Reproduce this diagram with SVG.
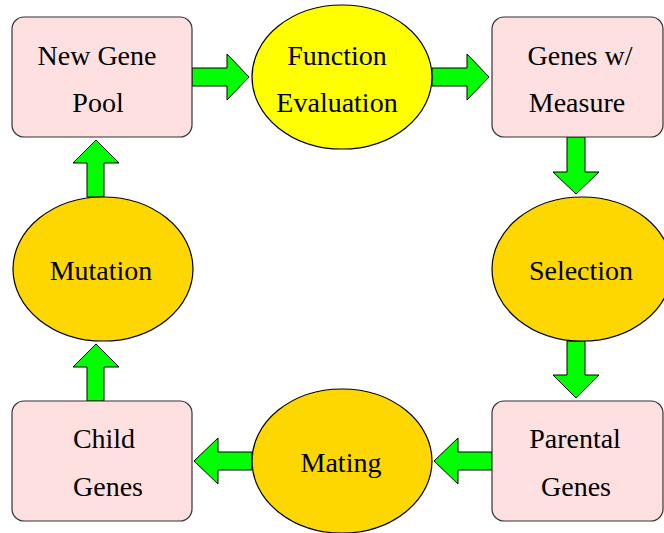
<svg xmlns="http://www.w3.org/2000/svg" width="664" height="533" viewBox="0 0 664 533">
<style>
.box{fill:#ffe0e0;stroke:#333;stroke-width:1.2}
.ell{fill:#ffd700;stroke:#000;stroke-width:1.2}
.yel{fill:#ffff00;stroke:#000;stroke-width:1.2}
.arr{fill:#00ff00;stroke:#000;stroke-width:1}
</style>
<rect width="664" height="533" fill="#fff"/>
<g id="connectors">
<polygon class="arr" points="192,68 227,68 227,54 249,77 227,100 227,86 192,86"/>
<polygon class="arr" points="432,68 467,68 467,54 489,77 467,100 467,86 432,86"/>
<polygon class="arr" points="567,137 585,137 585,172 599,172 576,194 553,172 567,172"/>
<polygon class="arr" points="567,341 585,341 585,375 599,375 576,398 553,375 567,375"/>
<polygon class="arr" points="492,452 458,452 458,438 434,461 458,484 458,470 492,470"/>
<polygon class="arr" points="252,452 218,452 218,438 194,461 218,484 218,470 252,470"/>
<polygon class="arr" points="87,401 87,367 73,367 96,344 119,367 104,367 104,401"/>
<polygon class="arr" points="87,197 87,163 73,163 96,140 119,163 104,163 104,197"/>
</g>
<g id="new-gene-pool">
<rect class="box" x="12" y="17" width="180" height="120" rx="12"/>
<text font-family="Liberation Serif" font-size="28" text-anchor="middle" x="97" y="65">New Gene</text>
<text font-family="Liberation Serif" font-size="28" text-anchor="middle" x="98" y="112">Pool</text>
</g>
<g id="function-evaluation">
<ellipse class="yel" cx="342" cy="77" rx="90" ry="72"/>
<text font-family="Liberation Serif" font-size="28" text-anchor="middle" x="337" y="65">Function</text>
<text font-family="Liberation Serif" font-size="28" text-anchor="middle" x="337" y="112">Evaluation</text>
</g>
<g id="genes-measure">
<rect class="box" x="492" y="17" width="171" height="120" rx="12"/>
<text font-family="Liberation Serif" font-size="28" text-anchor="middle" x="580" y="65">Genes w/</text>
<text font-family="Liberation Serif" font-size="28" text-anchor="middle" x="577" y="112">Measure</text>
</g>
<g id="selection">
<ellipse class="ell" cx="582" cy="269" rx="90" ry="72"/>
<text font-family="Liberation Serif" font-size="28" text-anchor="middle" x="581" y="280">Selection</text>
</g>
<g id="parental-genes">
<rect class="box" x="492" y="401" width="171" height="120" rx="12"/>
<text font-family="Liberation Serif" font-size="28" text-anchor="middle" x="575" y="448">Parental</text>
<text font-family="Liberation Serif" font-size="28" text-anchor="middle" x="576" y="496">Genes</text>
</g>
<g id="mating">
<ellipse class="ell" cx="342" cy="461" rx="90" ry="72"/>
<text font-family="Liberation Serif" font-size="28" text-anchor="middle" x="341" y="472">Mating</text>
</g>
<g id="child-genes">
<rect class="box" x="12" y="401" width="180" height="120" rx="12"/>
<text font-family="Liberation Serif" font-size="28" text-anchor="middle" x="104" y="448">Child</text>
<text font-family="Liberation Serif" font-size="28" text-anchor="middle" x="108" y="496">Genes</text>
</g>
<g id="mutation">
<ellipse class="ell" cx="103" cy="269" rx="90" ry="72"/>
<text font-family="Liberation Serif" font-size="28" text-anchor="middle" x="101" y="280">Mutation</text>
</g>
</svg>
